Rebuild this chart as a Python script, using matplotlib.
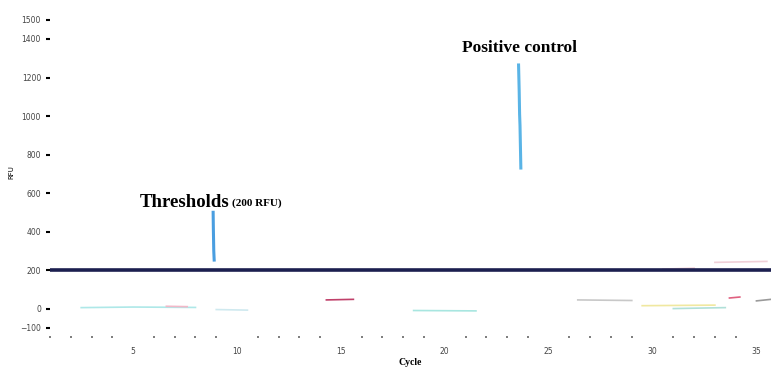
import matplotlib.pyplot as plt
import numpy as np

# values (RFU vs cycle)
threshold = 200
y_ticks = [-100, 0, 200, 400, 600, 800, 1000, 1200, 1400, 1500]
x_ticks = [5, 10, 15, 20, 25, 30, 35]

# steep positive-control and threshold-crossing traces
pos_cycles = [23.55, 23.58, 23.6, 23.62, 23.64, 23.66]
pos_rfu = [1265, 1130, 1010, 950, 840, 730]
thr_cycles = [8.85, 8.86, 8.87, 8.88, 8.9]
thr_rfu = [500, 420, 360, 300, 252]

# faint baseline traces of negative samples
base_traces = [
    ([2.5, 5, 8], [5, 8, 6], '#aee8e8'),
    ([6.6, 7.6], [12, 10], '#f2b8c8'),
    ([14.3, 15.6], [45, 48], '#c0406a'),
    ([9, 10.5], [-5, -8], '#cfe9ef'),
    ([18.5, 21.5], [-10, -12], '#a8e6e0'),
    ([26.4, 29], [45, 42], '#c8c8c8'),
    ([29.5, 33], [15, 18], '#f0e8a0'),
    ([31, 33.5], [0, 5], '#b0e0d8'),
    ([33.7, 34.2], [55, 60], '#e06080'),
    ([35.0, 35.7], [40, 48], '#9a9a9a'),
    ([30.5, 32], [205, 210], '#f4d0d8'),
    ([33, 35.5], [240, 245], '#f0d0d8'),
]

fig = plt.figure(figsize=(7.71, 3.72), dpi=100)
ax = fig.add_axes([0.0649, 0.098, 0.9351, 0.88])

for xs, ys, c in base_traces:
    ax.plot(xs, ys, color=c, lw=1.2)

ax.axhline(threshold, color='#1b1f4f', lw=2.6)

ax.plot(pos_cycles, pos_rfu, color='#5ab4e6', lw=2.2)
ax.plot(thr_cycles, thr_rfu, color='#4a9ee0', lw=2.2)

ax.text(23.6, 1353, 'Positive control', family='Liberation Serif', fontweight='bold',
        fontsize=12.5, ha='center', va='center')
ax.text(5.3, 553, 'Thresholds', family='Liberation Serif', fontweight='bold',
        fontsize=13.5, ha='left', va='center')
ax.text(9.75, 547, '(200 RFU)', family='Liberation Serif', fontweight='bold',
        fontsize=8, ha='left', va='center')

ax.set_xlim(1, 35.7)
ax.set_ylim(-140, 1560)
ax.set_xticks(x_ticks)
ax.set_xticks(np.arange(1, 36), minor=True)
ax.set_yticks(y_ticks)
ax.tick_params(axis='both', labelsize=5.5, labelcolor='#444444', length=3, width=1.5)
ax.tick_params(axis='x', which='minor', length=1.5, width=1.2, color='#666666')
ax.tick_params(axis='x', which='major', length=0, pad=8)
for s in ax.spines.values():
    s.set_visible(False)

ax.set_xlabel('Cycle', fontsize=7, family='Liberation Serif', fontweight='bold', labelpad=2)
ax.set_ylabel('RFU', fontsize=5, labelpad=4)

fig.savefig('out.png', dpi=100)
